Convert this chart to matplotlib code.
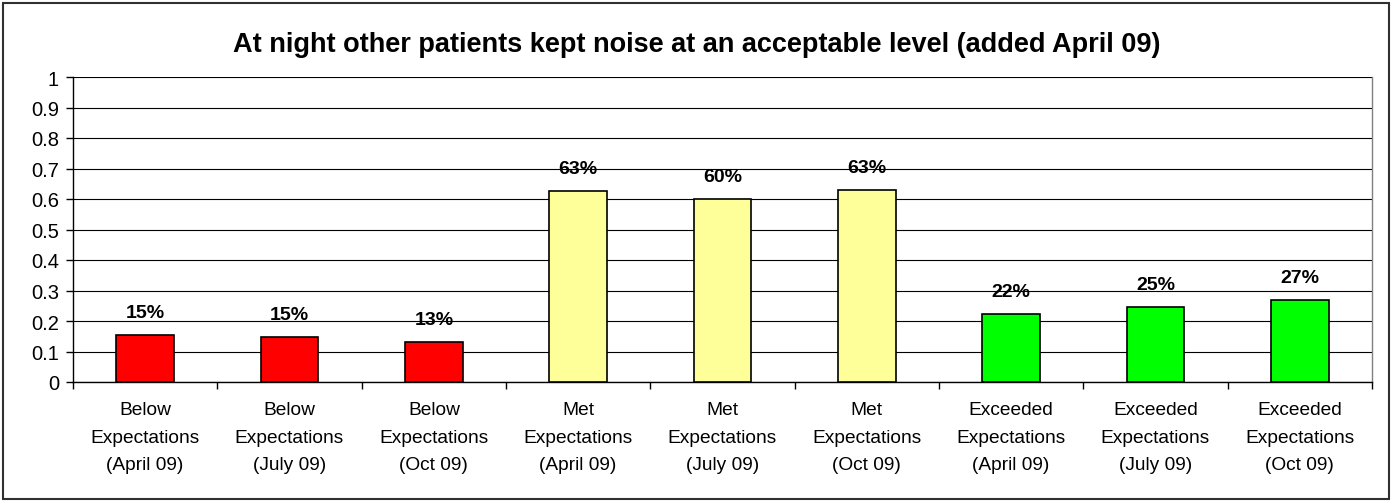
import matplotlib
matplotlib.use("Agg")
import matplotlib.pyplot as plt
from matplotlib.patches import Rectangle
import numpy as np

categories = [
    "Below\nExpectations\n(April 09)", "Below\nExpectations\n(July 09)", "Below\nExpectations\n(Oct 09)",
    "Met\nExpectations\n(April 09)", "Met\nExpectations\n(July 09)", "Met\nExpectations\n(Oct 09)",
    "Exceeded\nExpectations\n(April 09)", "Exceeded\nExpectations\n(July 09)", "Exceeded\nExpectations\n(Oct 09)",
]
values = [0.153, 0.147, 0.131, 0.625, 0.600, 0.630, 0.222, 0.246, 0.270]
value_labels = ["15%", "15%", "13%", "63%", "60%", "63%", "22%", "25%", "27%"]
colors = ["#FF0000"] * 3 + ["#FFFF99"] * 3 + ["#00FF00"] * 3
title = "At night other patients kept noise at an acceptable level (added April 09)"

plt.rcParams['font.family'] = ['Liberation Sans', 'DejaVu Sans']

fig = plt.figure(figsize=(13.94, 5.02), dpi=100)
ax = fig.add_axes([73/1394, 1 - 383/502, (1372 - 73)/1394, (383 - 78)/502])

x = np.arange(len(values))
ax.bar(x, values, width=0.4, color=colors, edgecolor="black", linewidth=1.2, zorder=3)
for xi, v, lab in zip(x, values, value_labels):
    ax.annotate(lab, (xi, v), xytext=(0, 10), textcoords="offset points",
                ha="center", va="bottom", fontsize=14, fontweight="bold", zorder=4)

ax.set_xlim(-0.5, len(values) - 0.5)
ax.set_ylim(0, 1)
ax.set_yticks(np.arange(0, 1.01, 0.1))
ax.set_yticklabels(["0"] + [f"{t:.1f}" for t in np.arange(0.1, 0.95, 0.1)] + ["1"])
ax.yaxis.grid(True, color="black", linewidth=0.8, zorder=0)
ax.set_axisbelow(True)

ax.set_xticks(np.arange(-0.5, len(values), 1.0))
ax.set_xticklabels([])
ax.set_xticks(x, minor=True)
ax.set_xticklabels(categories, minor=True, fontsize=13.8, linespacing=1.78)
ax.tick_params(axis="x", which="major", direction="out", length=5, width=1, color="black")
ax.tick_params(axis="x", which="minor", length=0, pad=14)
ax.tick_params(axis="y", direction="out", length=5, width=1, labelsize=14.5, pad=5)

for s in ["top", "right"]:
    ax.spines[s].set_visible(False)
ax.spines["left"].set_linewidth(1)
ax.spines["bottom"].set_linewidth(1)
ax.plot([1, 1], [0, 1], transform=ax.transAxes, color="#808080", linewidth=1, clip_on=False)

fig.text(697/1394, 1 - 45/502, title, ha="center", va="center", fontsize=19.5, fontweight="bold")

fig.patches.append(Rectangle((3/1394, 2/502), (1389 - 3)/1394, (498 - 2)/502,
                             transform=fig.transFigure, fill=False, edgecolor="#303030", linewidth=1.5))

fig.savefig("out.png", dpi=100)
